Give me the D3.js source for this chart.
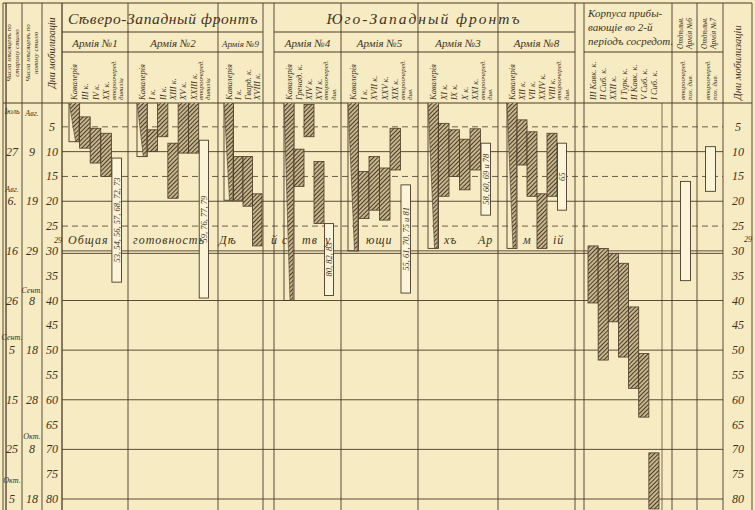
<!DOCTYPE html>
<html><head><meta charset="utf-8">
<script src="https://cdn.jsdelivr.net/npm/d3@7"></script>
<style>
body{margin:0;background:#f6ebc3}
svg{display:block}
text{font-family:"Liberation Serif","DejaVu Serif",serif;font-style:italic;fill:#3f3222}
</style>
</head><body>
<svg id="c" width="755" height="510"></svg>
<script>
// ---------- DATA ----------
const dayTicks = [5,10,15,20,25,30,35,40,45,50,55,60,65,70,75,80];
const solidDays = [10,20,30,40,50,60,70,80];
const dashedDays = [5,15,25];
const oldStyleDays = [10,20,30,40,50,60,70,80];
const oldStyleText = ["27","6.","16","26","5","15","25","5"];
const oldStyleMonthDays = [1.8,17.6,47.3,76.2];
const oldStyleMonthText = ["Іюль","Авг.","Сент.","Окт."];
const newStyleDays = [10,20,30,40,50,60,70,80];
const newStyleText = ["9","19","29","8","18","28","8","18"];
const newStyleMonthDays = [2.2,37.8,67.4];
const newStyleMonthText = ["Авг.","Сент.","Окт."];

const frontNames = ["Сѣверо-Западный фронтъ","Юго-Западный фронтъ"];
const armyNames = ["Армія №1","Армія №2","Армія №9","Армія №4","Армія №5","Армія №3","Армія №8"];

const army1 = [
 {unit:"Кавалерія",kind:"cav",start:0,end:8},
 {unit:"III к.",kind:"corps",start:3,end:9.3},
 {unit:"IV к.",kind:"corps",start:5.3,end:12.3},
 {unit:"XX к.",kind:"corps",start:6.3,end:15},
 {unit:"второочеред.|дивизіи",kind:"res",start:11.3,end:36.3,note:"53, 54, 56, 57, 68, 72, 73"}
];
const army2 = [
 {unit:"Кавалерія",kind:"cav",start:0,end:11},
 {unit:"I к.",kind:"corps",start:5.6,end:10},
 {unit:"II к.",kind:"corps",start:0,end:7},
 {unit:"XIII к.",kind:"corps",start:8.3,end:19.4},
 {unit:"XV к.",kind:"corps",start:0,end:10.3},
 {unit:"XXIII к.",kind:"corps",start:0,end:10.3},
 {unit:"второочеред.|дивизіи",kind:"res",start:7.7,end:39.5,note:"59, 76, 77, 79"}
];
const army9 = [
 {unit:"Кавалерія",kind:"cav",start:0,end:19.8},
 {unit:"I к.",kind:"corps",start:11,end:19.8},
 {unit:"Гвард. к.",kind:"corps",start:11,end:21},
 {unit:"XVIII к.",kind:"corps",start:18.5,end:29}
];
const army4 = [
 {unit:"Кавалерія",kind:"cav",start:0,end:40},
 {unit:"Гренад. к.",kind:"corps",start:9.5,end:17},
 {unit:"XIV к.",kind:"corps",start:0.5,end:7},
 {unit:"XVI к.",kind:"corps",start:12,end:24.5},
 {unit:"второочеред.|див.",kind:"res",start:24.5,end:39,note:"80, 82, 83"}
];
const army5 = [
 {unit:"Кавалерія",kind:"cav",start:0,end:30},
 {unit:"I к.",kind:"corps",start:14,end:23.5},
 {unit:"XVII к.",kind:"corps",start:11,end:21.8},
 {unit:"XXV к.",kind:"corps",start:13.3,end:23.8},
 {unit:"XIX к.",kind:"corps",start:5.3,end:13.7},
 {unit:"второочеред.|див.",kind:"res",start:16.7,end:38.5,note:"55, 61, 70, 75 и 81"}
];
const army3 = [
 {unit:"Кавалерія",kind:"cav",start:0,end:29.5},
 {unit:"XI к.",kind:"corps",start:4.3,end:19},
 {unit:"IX к.",kind:"corps",start:5.6,end:15},
 {unit:"X к.",kind:"corps",start:7.5,end:17.7},
 {unit:"XXI к.",kind:"corps",start:5.4,end:13.7},
 {unit:"второочеред.|див.",kind:"res",start:8.3,end:22.8,note:"58, 60, 69 и 78"}
];
const army8 = [
 {unit:"Кавалерія",kind:"cav",start:0,end:29.5},
 {unit:"XII к.",kind:"corps",start:3.6,end:12.7},
 {unit:"VII к.",kind:"corps",start:6,end:19},
 {unit:"XXIV к.",kind:"corps",start:18.5,end:29.5},
 {unit:"VIII к.",kind:"corps",start:6.3,end:19},
 {unit:"второочеред.|див.",kind:"res",start:8.3,end:21.8,note:"65"}
];
const corps2 = [
 {unit:"III Кавк. к.",kind:"corps",start:29,end:40.5},
 {unit:"II Сиб. к.",kind:"corps",start:29.5,end:52},
 {unit:"XXII к.",kind:"corps",start:30.5,end:44.3},
 {unit:"I Турк. к.",kind:"corps",start:32.5,end:51.4},
 {unit:"II Кавк. к.",kind:"corps",start:41.3,end:57.7},
 {unit:"V Сиб. к.",kind:"corps",start:50.7,end:63.5},
 {unit:"I Сиб. к.",kind:"corps",start:70.7,end:82}
];
const army6 = [{unit:"второочеред.|пох. див.",kind:"res",start:16,end:36,note:""}];
const army7 = [{unit:"второочеред.|пох. див.",kind:"res",start:9,end:18,note:""}];

const readinessWords = ["Общая","готовность","Дѣ","й","с","тв","у","ющи","хъ","Ар","м","ій"];

// ---------- LAYOUT ----------
const svg = d3.select("#c");
const W = 755, H = 510;
const ink = "#4a3b29";
const y = d3.scaleLinear().domain([0,80]).range([102,499]);
const HB = 103; // header bottom

const defs = svg.append("defs");
const pat = defs.append("pattern").attr("id","hatch").attr("patternUnits","userSpaceOnUse")
  .attr("width",3).attr("height",3).attr("patternTransform","rotate(45)");
pat.append("rect").attr("width",3).attr("height",3).attr("fill","#c9b98f");
pat.append("line").attr("x1",0.5).attr("y1",0).attr("x2",0.5).attr("y2",3).attr("stroke","#4c3d2b").attr("stroke-width",1.1);
defs.append("clipPath").attr("id","body").append("rect").attr("x",0).attr("y",HB).attr("width",W).attr("height",H-HB);

svg.append("rect").attr("width",W).attr("height",H).attr("fill","#f6ebc3");

const grid = svg.append("g").attr("stroke",ink).attr("fill","none");
solidDays.forEach(d=>{
  grid.append("line").attr("x1",62).attr("x2",723).attr("y1",y(d)).attr("y2",y(d)).attr("stroke-width",0.9);
});
grid.append("line").attr("x1",62).attr("x2",723).attr("y1",y(30.5)).attr("y2",y(30.5)).attr("stroke-width",0.9);
dashedDays.forEach(d=>{
  grid.append("line").attr("x1",62).attr("x2",723).attr("y1",y(d)).attr("y2",y(d)).attr("stroke-width",0.8).attr("stroke-dasharray","6,4");
});

[3,6,22,42,62,128,218,263,274,341,418,498,575,584,672,697,723,752].forEach(x=>{
  grid.append("line").attr("x1",x).attr("x2",x).attr("y1",3).attr("y2",H).attr("stroke-width",x===6||x===62?1.3:0.9);
});
grid.append("line").attr("x1",662).attr("x2",662).attr("y1",HB).attr("y2",H).attr("stroke-width",0.7);
grid.append("line").attr("x1",3).attr("x2",752).attr("y1",3).attr("y2",3).attr("stroke-width",1.2);
grid.append("line").attr("x1",3).attr("x2",752).attr("y1",HB).attr("y2",HB).attr("stroke-width",1.2);
[[62,263],[274,575]].forEach(([a,b])=>{
  grid.append("line").attr("x1",a).attr("x2",b).attr("y1",32).attr("y2",32);
  grid.append("line").attr("x1",a).attr("x2",b).attr("y1",52).attr("y2",52);
});
grid.append("line").attr("x1",584).attr("x2",723).attr("y1",52).attr("y2",52);

// ---------- HEADER TEXT ----------
const hdr = svg.append("g");
hdr.append("text").attr("x",163).attr("y",24).attr("text-anchor","middle").attr("font-size",15.5).attr("letter-spacing",0.6).text(frontNames[0]);
hdr.append("text").attr("x",424).attr("y",24).attr("text-anchor","middle").attr("font-size",15.5).attr("letter-spacing",2).text(frontNames[1]);
const armyBoxes = [[62,128],[128,218],[218,263],[274,341],[341,418],[418,498],[498,575]];
armyBoxes.forEach(([a,b],i)=>{
  hdr.append("text").attr("x",(a+b)/2).attr("y",47).attr("text-anchor","middle")
    .attr("font-size", i===2?9:11).text(armyNames[i]);
});
["Корпуса прибы-","вающіе во 2-й","періодъ сосредот."].forEach((t,i)=>{
  hdr.append("text").attr("x",588).attr("y",17+i*14).attr("font-size",11).text(t);
});
function vtext(g,x,yb,lines,size,anchor){
  lines.forEach((t,i)=>{
    g.append("text").attr("transform",`translate(${x+i*(size+1)},${yb}) rotate(-90)`)
      .attr("text-anchor",anchor||"start").attr("font-size",size).text(t);
  });
}
vtext(hdr,11,53,["Числа мѣсяцевъ по","старому стилю"],7,"middle");
vtext(hdr,30,53,["Числа мѣсяцевъ по","новому стилю"],7,"middle");
vtext(hdr,55,53,["Дни мобилизаціи"],10,"middle");
vtext(hdr,683,49,["Отдѣльн.","Армія №6"],7.5,"start");
vtext(hdr,707,49,["Отдѣльн.","Армія №7"],7.5,"start");
vtext(hdr,741,100,["Дни мобилизаціи"],10.5,"start");

// ---------- BARS ----------
const groups = [
 {data:army1,b0:69,b1:122},
 {data:army2,b0:137,b1:209},
 {data:army9,b0:224,b1:262},
 {data:army4,b0:284,b1:334},
 {data:army5,b0:348,b1:411},
 {data:army3,b0:428,b1:491},
 {data:army8,b0:507,b1:567},
 {data:corps2,b0:588,b1:659},
 {data:army6,b0:680,b1:691},
 {data:army7,b0:705,b1:716}
];
const bars = svg.append("g").attr("clip-path","url(#body)");
const labels = svg.append("g");
groups.forEach(g=>{
  const x = d3.scaleBand().domain(g.data.map((d,i)=>i)).range([g.b0,g.b1]).paddingInner(0);
  g.data.forEach((d,i)=>{
    const x0 = x(i), bw = x.bandwidth(), x1 = x0+bw;
    const y0 = y(d.start), y1 = y(d.end);
    if(d.kind==="cav"){
      bars.append("rect").attr("x",x0).attr("y",y0).attr("width",bw).attr("height",y1-y0)
        .attr("fill","none").attr("stroke",ink).attr("stroke-width",0.9);
      bars.append("polygon").attr("points",[[x0,y0],[x1,y0],[x1-1,y1],[x1-4,y1]].join(" "))
        .attr("fill","url(#hatch)").attr("stroke",ink).attr("stroke-width",0.6);
    } else if(d.kind==="corps"){
      bars.append("rect").attr("x",x0).attr("y",y0).attr("width",bw).attr("height",y1-y0)
        .attr("fill","url(#hatch)").attr("stroke",ink).attr("stroke-width",0.8);
    } else {
      bars.append("rect").attr("x",x0+0.5).attr("y",y0).attr("width",bw-1).attr("height",y1-y0)
        .attr("fill","#fbf4d8").attr("stroke",ink).attr("stroke-width",0.9);
      if(d.note){
        bars.append("text").attr("transform",`translate(${x0+bw/2+3},${(y0+y1)/2}) rotate(-90)`)
          .attr("text-anchor","middle").attr("font-size",8.5).text(d.note);
      }
    }
    const parts = d.unit.split("|");
    const cx = x0+bw/2;
    const sz = parts.length>1 ? 7 : 8.5;
    parts.forEach((t,k)=>{
      labels.append("text").attr("transform",`translate(${cx+3-(parts.length-1)*4+k*7.5},${HB-3}) rotate(-90)`)
        .attr("font-size",sz).text(t);
    });
  });
});

// ---------- READINESS TEXT ----------
const wordX = [68,133,219,271,282,302,325,366,444,478,523,553];
const rt = svg.append("g");
readinessWords.forEach((w,i)=>{
  rt.append("text").attr("x",wordX[i]).attr("y",y(29)-2).attr("font-size",12).attr("letter-spacing",1).text(w);
});

// ---------- AXIS TEXT ----------
const ax = svg.append("g");
dayTicks.forEach(d=>{
  ax.append("text").attr("x",52).attr("y",y(d)+4).attr("text-anchor","middle").attr("font-size",12).text(d);
  ax.append("text").attr("x",738).attr("y",y(d)+4).attr("text-anchor","middle").attr("font-size",12).text(d);
});
ax.append("text").attr("x",58).attr("y",y(28.4)).attr("text-anchor","middle").attr("font-size",8).text("29");
ax.append("text").attr("x",748).attr("y",y(28.2)).attr("text-anchor","middle").attr("font-size",8).text("29");
oldStyleDays.forEach((d,i)=>{
  ax.append("text").attr("x",12).attr("y",y(d)+4).attr("text-anchor","middle").attr("font-size",12).text(oldStyleText[i]);
});
oldStyleMonthDays.forEach((d,i)=>{
  ax.append("text").attr("x",12).attr("y",y(d)+3).attr("text-anchor","middle").attr("font-size",8).text(oldStyleMonthText[i]);
});
newStyleDays.forEach((d,i)=>{
  ax.append("text").attr("x",32).attr("y",y(d)+4).attr("text-anchor","middle").attr("font-size",12).text(newStyleText[i]);
});
newStyleMonthDays.forEach((d,i)=>{
  ax.append("text").attr("x",32).attr("y",y(d)+3).attr("text-anchor","middle").attr("font-size",8).text(newStyleMonthText[i]);
});
</script>
</body></html>
